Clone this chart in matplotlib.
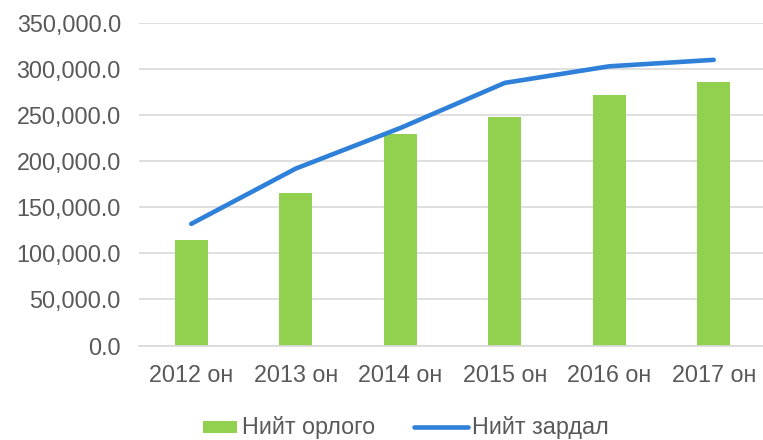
import matplotlib
matplotlib.use("Agg")
import matplotlib.pyplot as plt
from matplotlib.patches import Rectangle
from matplotlib.lines import Line2D
from matplotlib.ticker import FuncFormatter

categories = ["2012 он", "2013 он", "2014 он", "2015 он", "2016 он", "2017 он"]
income = [115000, 165000, 230000, 248000, 271500, 285600]
expense = [132000, 192000, 236000, 285000, 303000, 310000]
series_names = ["Нийт орлого", "Нийт зардал"]

plt.rcParams['font.family'] = ['Liberation Sans', 'DejaVu Sans']

W, H = 763, 440
fig = plt.figure(figsize=(W / 100, H / 100), dpi=100)
left, right, top, bottom = 139, 766, 23, 345.5
ax = fig.add_axes([left / W, 1 - bottom / H, (right - left) / W, (bottom - top) / H])

x = list(range(len(categories)))
green = "#92D050"
blue = "#2E80D8"
txt = "#595959"
fs = 16.8

ax.bar(x, income, width=0.313, color=green, zorder=2)
ax.plot(x, expense, color=blue, lw=3.3, solid_capstyle='round', solid_joinstyle='round', zorder=3)

ax.set_xlim(-0.5, 5.5)
ax.set_ylim(0, 350000)
ax.set_yticks(range(0, 350001, 50000))
ax.yaxis.set_major_formatter(FuncFormatter(lambda v, p: f"{v:,.1f}"))
ax.set_xticks(x)
ax.set_xticklabels(categories)

ax.grid(axis='y', color="#D9D9D9", lw=1.2, zorder=0)
ax.set_axisbelow(True)
for s in ['top', 'right', 'left']:
    ax.spines[s].set_visible(False)
ax.spines['bottom'].set_color("#D9D9D9")
ax.spines['bottom'].set_linewidth(1.2)
ax.tick_params(axis='both', length=0, labelsize=fs, labelcolor=txt)
ax.tick_params(axis='y', pad=13)
ax.tick_params(axis='x', pad=13)

# legend drawn in figure pixel coordinates
def fx(px):
    return px / W

def fy(py):
    return 1 - py / H

ly = 427
fig.patches.append(Rectangle((fx(203), fy(433.3)), fx(237) - fx(203), fy(420.7) - fy(433.3),
                             transform=fig.transFigure, facecolor=green, edgecolor='none'))
fig.text(fx(242), fy(ly), series_names[0], fontsize=fs, color=txt, va='center', ha='left')
fig.lines.append(Line2D([fx(414), fx(468)], [fy(ly), fy(ly)], transform=fig.transFigure,
                        color=blue, lw=3.3, solid_capstyle='round'))
fig.text(fx(472), fy(ly), series_names[1], fontsize=fs, color=txt, va='center', ha='left')

fig.savefig("out.png", dpi=100)
